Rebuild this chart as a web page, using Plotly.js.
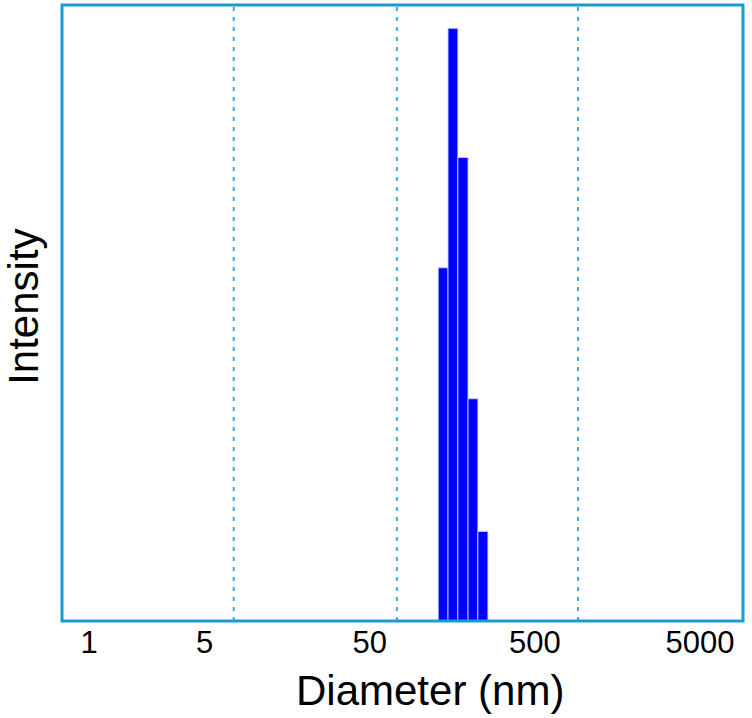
<!DOCTYPE html>
<html>
<head>
<meta charset="utf-8">
<script src="https://cdn.plot.ly/plotly-3.0.1.min.js"></script>
<style>
  html, body { margin: 0; padding: 0; background: #ffffff; }
  #chart { width: 752px; height: 718px; }
</style>
</head>
<body>
<div id="chart"></div>
<script>
// Bin edges of the size distribution (nm) and the intensity (%) in each bin
const binEdges = [130, 149, 171, 197, 226, 260];
const intensity = [20.5, 34.4, 26.9, 12.9, 5.2];

// Tick labels on the diameter axis (nm)
const tickValues = [1, 5, 50, 500, 5000];
const tickLabels = ['1', '5', '50', '500', '5000'];

// Dotted vertical guide lines (nm)
const guideLines = [7.5, 73, 914];

const xTitle = 'Diameter (nm)';
const yTitle = 'Intensity';

const centers = [];
const widths = [];
for (let i = 0; i < intensity.length; i++) {
  centers.push((binEdges[i] + binEdges[i + 1]) / 2);
  widths.push(binEdges[i + 1] - binEdges[i]);
}

const frameColor = '#1b9ad6';
const guideColor = '#35aadf';

const trace = {
  type: 'bar',
  x: centers,
  y: intensity,
  width: widths,
  marker: { color: '#0000ff', line: { color: 'rgba(200,210,255,0.9)', width: 1 } },
  hoverinfo: 'x+y'
};

const shapes = guideLines.map(v => ({
  type: 'line', xref: 'x', yref: 'paper',
  x0: v, x1: v, y0: 0, y1: 1,
  line: { color: guideColor, width: 2, dash: '4px,6px' },
  layer: 'below'
}));
// plot frame
shapes.push({
  type: 'rect', xref: 'paper', yref: 'paper',
  x0: 0, x1: 1, y0: 0, y1: 1,
  line: { color: frameColor, width: 3 },
  layer: 'above'
});

const layout = {
  width: 752, height: 718,
  margin: { l: 62, r: 9, t: 5, b: 97 },
  paper_bgcolor: '#ffffff',
  plot_bgcolor: '#ffffff',
  showlegend: false,
  bargap: 0,
  font: { family: 'Liberation Sans, Arial, sans-serif', color: '#000000' },
  xaxis: {
    type: 'log',
    range: [-0.165, 3.960],
    tickvals: tickValues,
    ticktext: tickLabels,
    ticks: '',
    ticklen: 0,
    showgrid: false,
    zeroline: false,
    showline: false,
    anchor: 'free',
    position: 0,
    tickfont: { size: 31, color: '#000000' },
    ticklabelstandoff: 0,
    title: { text: '' }
  },
  yaxis: {
    range: [0, 35.75],
    showticklabels: false,
    ticks: '',
    showgrid: false,
    zeroline: false,
    showline: false,
    title: { text: '' }
  },
  shapes: shapes,
  annotations: [{
    text: xTitle, xref: 'paper', yref: 'paper',
    x: 0.5404, y: 0, yshift: -44,
    xanchor: 'center', yanchor: 'top',
    showarrow: false,
    font: { size: 42, color: '#000000' }
  }, {
    text: yTitle, xref: 'paper', yref: 'paper',
    x: 0, xshift: -38, y: 0.51,
    xanchor: 'center', yanchor: 'middle',
    textangle: -90,
    showarrow: false,
    font: { size: 42, color: '#000000' }
  }]
};

Plotly.newPlot('chart', [trace], layout, { displayModeBar: false, staticPlot: true });
</script>
</body>
</html>
